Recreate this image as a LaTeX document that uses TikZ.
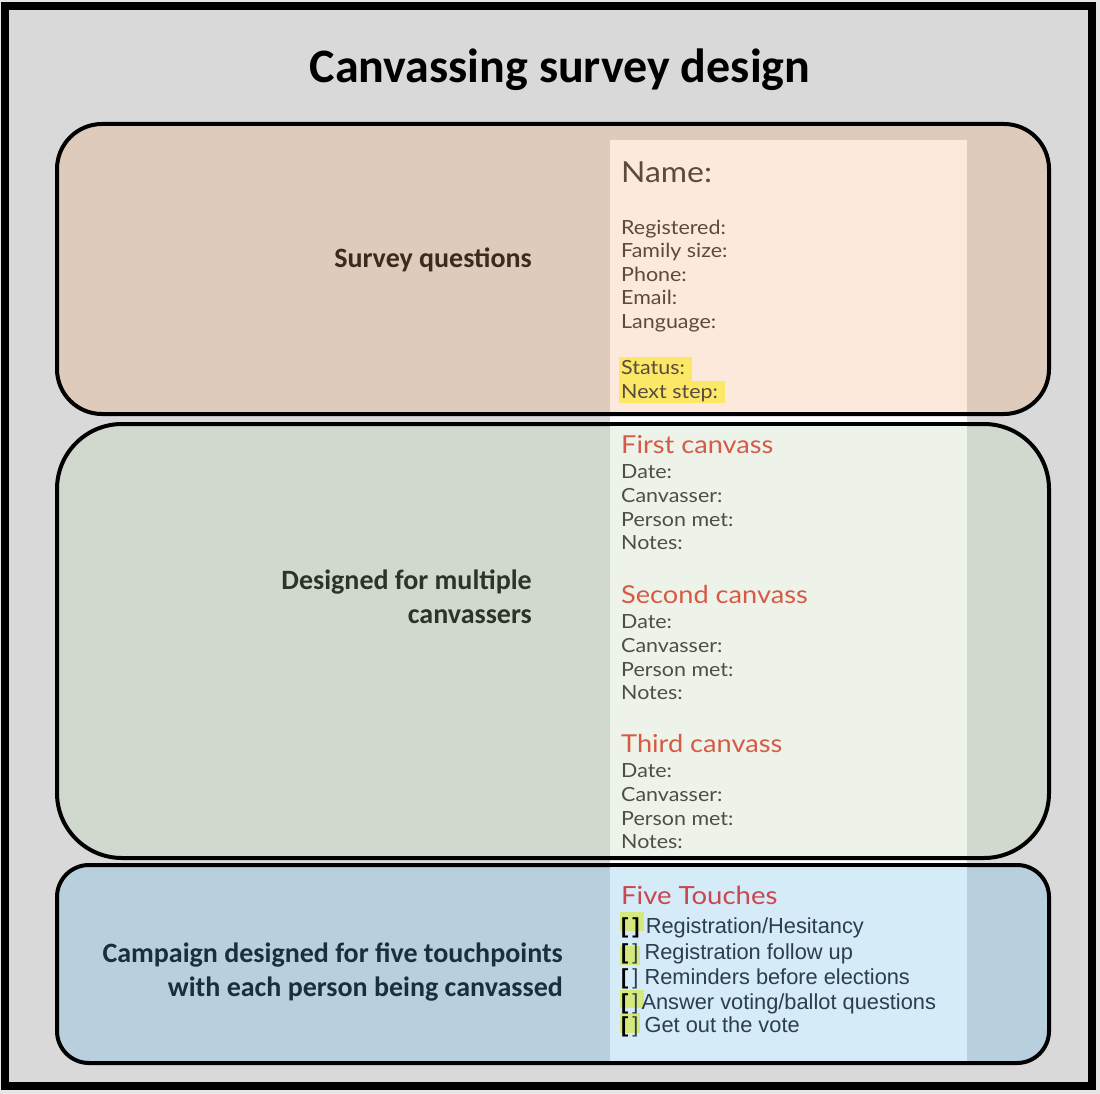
\documentclass[tikz,border=0pt]{standalone}
\usepackage{fontspec}
\setmainfont{Lato}[FakeStretch=1.1]
\newfontfamily\calib{Carlito}
\newfontfamily\arialf{Liberation Sans}
\definecolor{pagebg}{HTML}{E6E6E6}
\definecolor{framebg}{HTML}{D9D9D9}
\definecolor{tanbox}{HTML}{DFCBBC}
\definecolor{sagebox}{HTML}{D1D8CD}
\definecolor{bluebox}{HTML}{B8CFDD}
\definecolor{tanform}{HTML}{FDE9DC}
\definecolor{sageform}{HTML}{EEF3EA}
\definecolor{blueform}{HTML}{D5EBF8}
\definecolor{tantext}{HTML}{3B2A1E}
\definecolor{sagetext}{HTML}{2E3329}
\definecolor{bluetext}{HTML}{1A2E3D}
\definecolor{formtext}{HTML}{5B4A3F}
\definecolor{fieldtext}{HTML}{4A4F47}
\definecolor{headred}{HTML}{D65A45}
\definecolor{touchred}{HTML}{C9474E}
\definecolor{listtext}{HTML}{2B3D4F}
\definecolor{hiyellow}{HTML}{FBE867}
\definecolor{higreen}{HTML}{D5E87C}
\begin{document}
\begin{tikzpicture}[
		x=1pt, y=-1pt,
		band/.style = {rectangle, draw=black, line width=4, minimum width=992},
		panel/.style = {rectangle, inner sep=0, outer sep=0, minimum width=357, anchor=north west},
		lbl/.style = {anchor=base east, inner sep=0, font=\calib\bfseries\fontsize{28}{32}\selectfont},
		field/.style = {anchor=base west, inner sep=0, text=fieldtext, font=\fontsize{19.5}{23}\selectfont},
		qfield/.style = {field, text=formtext},
		head/.style = {anchor=base west, inner sep=0, text=headred, font=\fontsize{24.7}{30}\selectfont},
		item/.style = {anchor=base west, inner sep=0, text=listtext, font=\arialf\fontsize{21.8}{26}\selectfont},
		]
		\useasboundingbox (0,0) rectangle (1100,1094);
		
		%Frame
		\fill[pagebg] (0,0) rectangle (1100,1094);
		\draw[fill=framebg, line width=8] (5,6) rectangle (1092,1086);
		\node[anchor=base, inner sep=0, font=\calib\bfseries\fontsize{48}{56}\selectfont] (title) at (560,83) {Canvassing survey design};
		
		%White gaps of the form column
		\fill[white] (610,405) rectangle (967,430);
		\fill[white] (610,850) rectangle (967,870);
		
		%Bands
		\node[band, fill=tanbox, minimum height=290, rounded corners=45]	(survey)	at	(553,269)	{};
		\node[band, fill=sagebox, minimum height=434, rounded corners=65]	(multi)	at	(553,641)	{};
		\node[band, fill=bluebox, minimum height=198, rounded corners=32]	(touch)	at	(553,964)	{};
		
		%Form panels
		\node[panel, fill=tanform, minimum height=272]	(p1)	at	(610,140)	{};
		\node[panel, fill=sageform, minimum height=430]	(p2)	at	(610,426)	{};
		\node[panel, fill=blueform, minimum height=194]	(p3)	at	(610,867)	{};
		
		%Band labels
		\node[lbl, text=tantext]	(l1)	at	(532,267)	{Survey questions};
		\node[lbl, text=sagetext]	(l2a)	at	(532,589)	{Designed for multiple};
		\node[lbl, text=sagetext]	(l2b)	at	(532,623)	{canvassers};
		\node[lbl, text=bluetext]	(l3a)	at	(563,962)	{Campaign designed for five touchpoints};
		\node[lbl, text=bluetext]	(l3b)	at	(563,996)	{with each person being canvassed};
		
		%Survey questions
		\fill[hiyellow] (619,357) rectangle (692,381);
		\fill[hiyellow] (619,381) rectangle (725,403);
		\node[qfield, font=\fontsize{29}{34}\selectfont]	(name)	at	(621,183)	{Name:};
		\node[qfield]	(reg)	at	(621,234)	{Registered:};
		\node[qfield]	(fam)	at	(621,257.5)	{Family size:};
		\node[qfield]	(phone)	at	(621,281)	{Phone:};
		\node[qfield]	(email)	at	(621,304.5)	{Email:};
		\node[qfield]	(lang)	at	(621,328)	{Language:};
		\node[qfield]	(status)	at	(621,374)	{Status:};
		\node[qfield]	(next)	at	(621,398)	{Next step:};
		
		%Canvasses
		\foreach \k/\h/\y in {1/First/453, 2/Second/603, 3/Third/752} {
			\node[head]	(c\k)	at	(621,\y)	{\h{} canvass};
			\node[field]	(c\k date)	at	(621,\y+25)	{Date:};
			\node[field]	(c\k who)	at	(621,\y+49)	{Canvasser:};
			\node[field]	(c\k met)	at	(621,\y+73)	{Person met:};
			\node[field]	(c\k notes)	at	(621,\y+96)	{Notes:};
		}
		
		%Five touches
		\fill[higreen] (620,912) rectangle (644,931);
		\fill[higreen] (620,946) rectangle (640,965);
		\fill[higreen] (620,990) rectangle (644,1008);
		\fill[higreen] (620,1013) rectangle (640,1033);
		\node[anchor=base west, inner sep=0, text=touchred, font=\fontsize{25}{30}\selectfont]	(five)	at	(621,904)	{Five Touches};
		\node[item]	(t1)	at	(621,933)	{\textcolor{black}{\bfseries[\kern4pt]} Registration/Hesitancy};
		\node[item]	(t2)	at	(621,959)	{\textcolor{black}{\bfseries[}\kern4pt] Registration follow up};
		\node[item]	(t3)	at	(621,984)	{\textcolor{black}{\bfseries[}\kern4pt] Reminders before elections};
		\node[item]	(t4)	at	(621,1009)	{\textcolor{black}{\bfseries[}\kern4pt]\kern3pt Answer voting/ballot questions};
		\node[item]	(t5)	at	(621,1032)	{\textcolor{black}{\bfseries[}\kern4pt] Get out the vote};
		
	\end{tikzpicture}
\end{document}
